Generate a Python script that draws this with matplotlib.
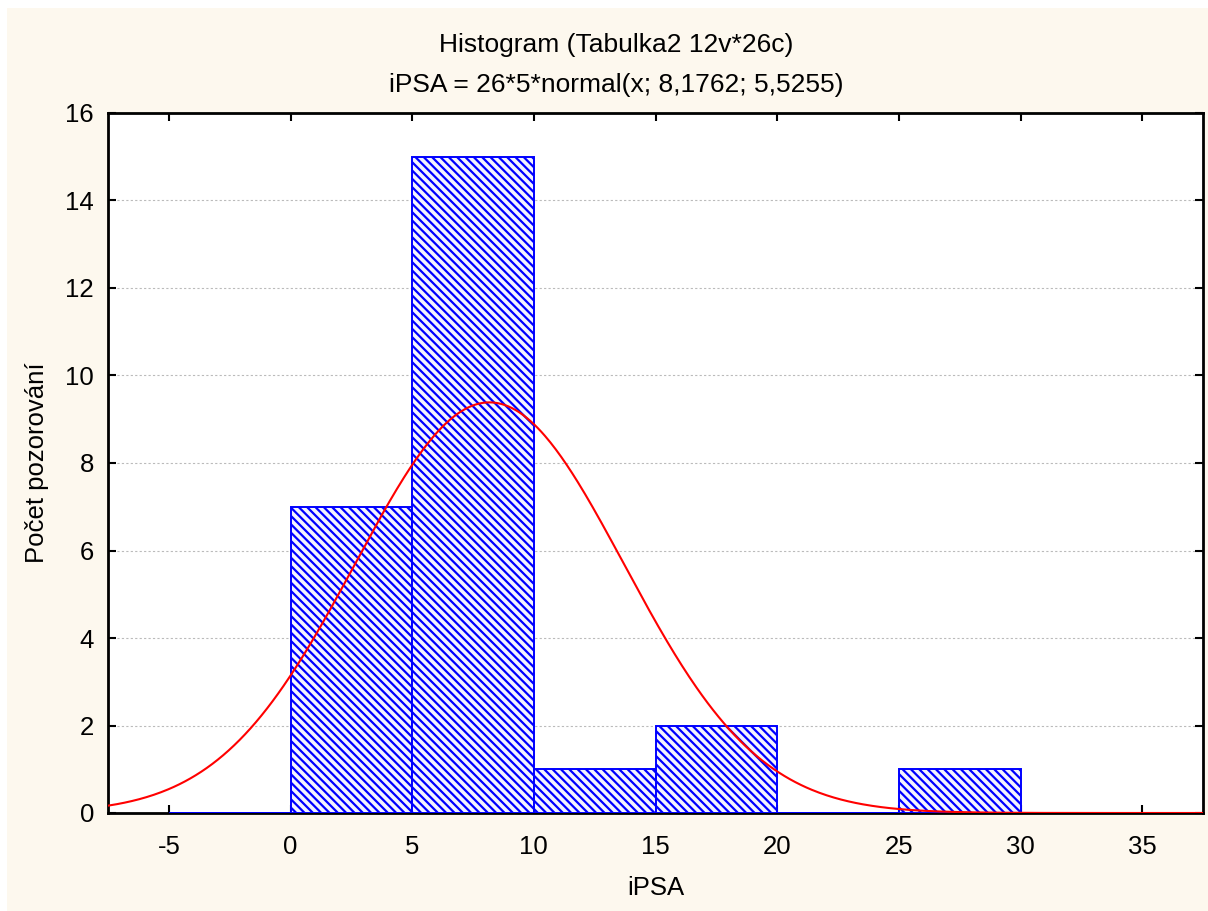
import numpy as np
import matplotlib.pyplot as plt
from matplotlib.patches import Rectangle

plt.rcParams['font.family'] = ['Liberation Sans', 'DejaVu Sans']
plt.rcParams['hatch.linewidth'] = 1.6

# histogram bins (iPSA) and counts
bin_edges = [-5, 0, 5, 10, 15, 20, 25, 30, 35]
counts = [0, 7, 15, 1, 2, 0, 1, 0]

# fitted normal curve from the title
n_obs = 26
bin_width = 5
mu = 8.1762
sigma = 5.5255

x_ticks = [-5, 0, 5, 10, 15, 20, 25, 30, 35]
y_ticks = [0, 2, 4, 6, 8, 10, 12, 14, 16]

fig = plt.figure(figsize=(12.08, 9.11), dpi=100)
fig.patch.set_facecolor('white')
# cream panel behind everything (thin white strip top/left)
fig.patches.append(Rectangle((7 / 1208, 0), 1, 1 - 8 / 911, transform=fig.transFigure,
                             facecolor='#FDF8EE', edgecolor='none', zorder=-10))

ax = fig.add_axes([108 / 1208, 1 - 813 / 911, (1203 - 108) / 1208, (813 - 113) / 911])
ax.set_facecolor('white')

lefts = np.array(bin_edges[:-1])
widths = np.diff(bin_edges)
ax.bar(lefts, counts, width=widths, align='edge', facecolor='#F4F4FF',
       edgecolor='#0000FF', hatch='\\\\\\\\', linewidth=1.4, zorder=6)

xs = np.linspace(-7.5, 37.5, 600)
ys = n_obs * bin_width * np.exp(-0.5 * ((xs - mu) / sigma) ** 2) / (sigma * np.sqrt(2 * np.pi))
ax.plot(xs, ys, color='#FF0000', linewidth=1.5, zorder=7)

ax.set_xlim(-7.5, 37.5)
ax.set_ylim(0, 16)
ax.set_xticks(x_ticks)
ax.set_xticklabels([str(t) for t in x_ticks])
ax.set_yticks(y_ticks)
ax.grid(axis='y', color='#BBBBBB', linestyle=(0, (2, 2)), linewidth=0.8, zorder=0)
ax.tick_params(direction='in', length=6, width=1.5, top=True, right=True,
               labelsize=18.5, colors='black')
ax.tick_params(axis='x', pad=16)
ax.tick_params(axis='y', pad=10)
for s in ax.spines.values():
    s.set_linewidth(2)
    s.set_zorder(5)

ax.set_xlabel('iPSA', fontsize=18.5, labelpad=12)
ax.set_ylabel('Počet pozorování', fontsize=18.5, labelpad=12)

fig.text(616 / 1208, 1 - 45 / 911, 'Histogram (Tabulka2 12v*26c)', ha='center', va='center', fontsize=19)
fig.text(616 / 1208, 1 - 85 / 911, 'iPSA = 26*5*normal(x; 8,1762; 5,5255)', ha='center', va='center', fontsize=19)

fig.savefig('out.png', dpi=100, facecolor=fig.get_facecolor())
